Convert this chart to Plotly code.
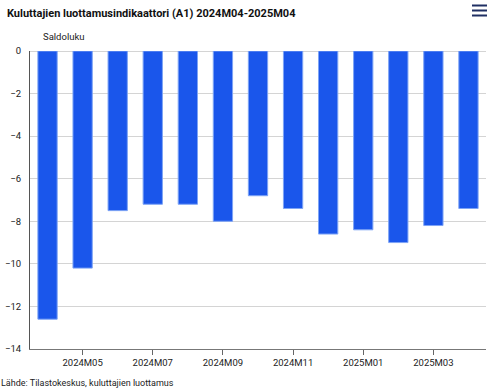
import plotly.graph_objects as go

months = ["2024M04", "2024M05", "2024M06", "2024M07", "2024M08", "2024M09", "2024M10",
          "2024M11", "2024M12", "2025M01", "2025M02", "2025M03", "2025M04"]
values = [-12.6, -10.2, -7.5, -7.2, -7.2, -8.0, -6.8, -7.4, -8.6, -8.4, -9.0, -8.2, -7.4]
tick_labels = months[1::2]
y_ticks = [0, -2, -4, -6, -8, -10, -12, -14]

font_family = "Roboto, Arial, sans-serif"

fig = go.Figure(go.Bar(
    x=months, y=values,
    marker=dict(color="#1a56eb", line=dict(color="#7ea4f5", width=1)),
    width=0.55,
))

fig.update_layout(
    width=497, height=391,
    margin=dict(l=30, r=11, t=51, b=42, autoexpand=False),
    plot_bgcolor="white", paper_bgcolor="white",
    showlegend=False,
    font=dict(family=font_family, size=10, color="#222222"),
    title=dict(text="Kuluttajien luottamusindikaattori (A1) 2024M04-2025M04",
               x=7/497, xanchor="left", y=1 - 13/391, yanchor="middle",
               font=dict(family=font_family, size=11, color="#111111", weight="bold")),
    xaxis=dict(type="category", tickmode="array", tickvals=tick_labels, ticktext=tick_labels,
               ticks="outside", ticklen=5, tickcolor="#666666", automargin=False,
               showline=True, linecolor="#777777", linewidth=1,
               showgrid=False, tickfont=dict(size=9.5, color="#222222")),
    yaxis=dict(range=[-14, 0], tickvals=y_ticks, showgrid=True, gridcolor="#d4d4d4",
               gridwidth=1, zeroline=True, zerolinecolor="#d4d4d4", zerolinewidth=1,
               showline=True, linecolor="#555555", linewidth=1, ticks="", automargin=False,
               ticklabelstandoff=6,
               tickfont=dict(size=9.5, color="#222222")),
    annotations=[
        dict(text="Saldoluku", xref="paper", yref="paper", x=11/456, y=1 + 7/298,
             xanchor="left", yanchor="bottom", showarrow=False,
             font=dict(size=9.5, color="#222222")),
        dict(text="Lähde: Tilastokeskus, kuluttajien luottamus", xref="paper", yref="paper",
             x=-31/456, y=-27/298, xanchor="left", yanchor="top", showarrow=False,
             font=dict(size=9, color="#222222")),
    ],
)

for yy in [5.5, 10.5, 15.5]:
    fig.add_shape(type="line", xref="paper", yref="paper",
                  x0=(472 - 30) / 456, x1=(487 - 30) / 456,
                  y0=(391 - 42 - yy) / 298, y1=(391 - 42 - yy) / 298,
                  line=dict(color="#1f2f63", width=2))

fig.write_html("out.html", config={"displayModeBar": False},
               post_script="document.body.style.margin='0';")
